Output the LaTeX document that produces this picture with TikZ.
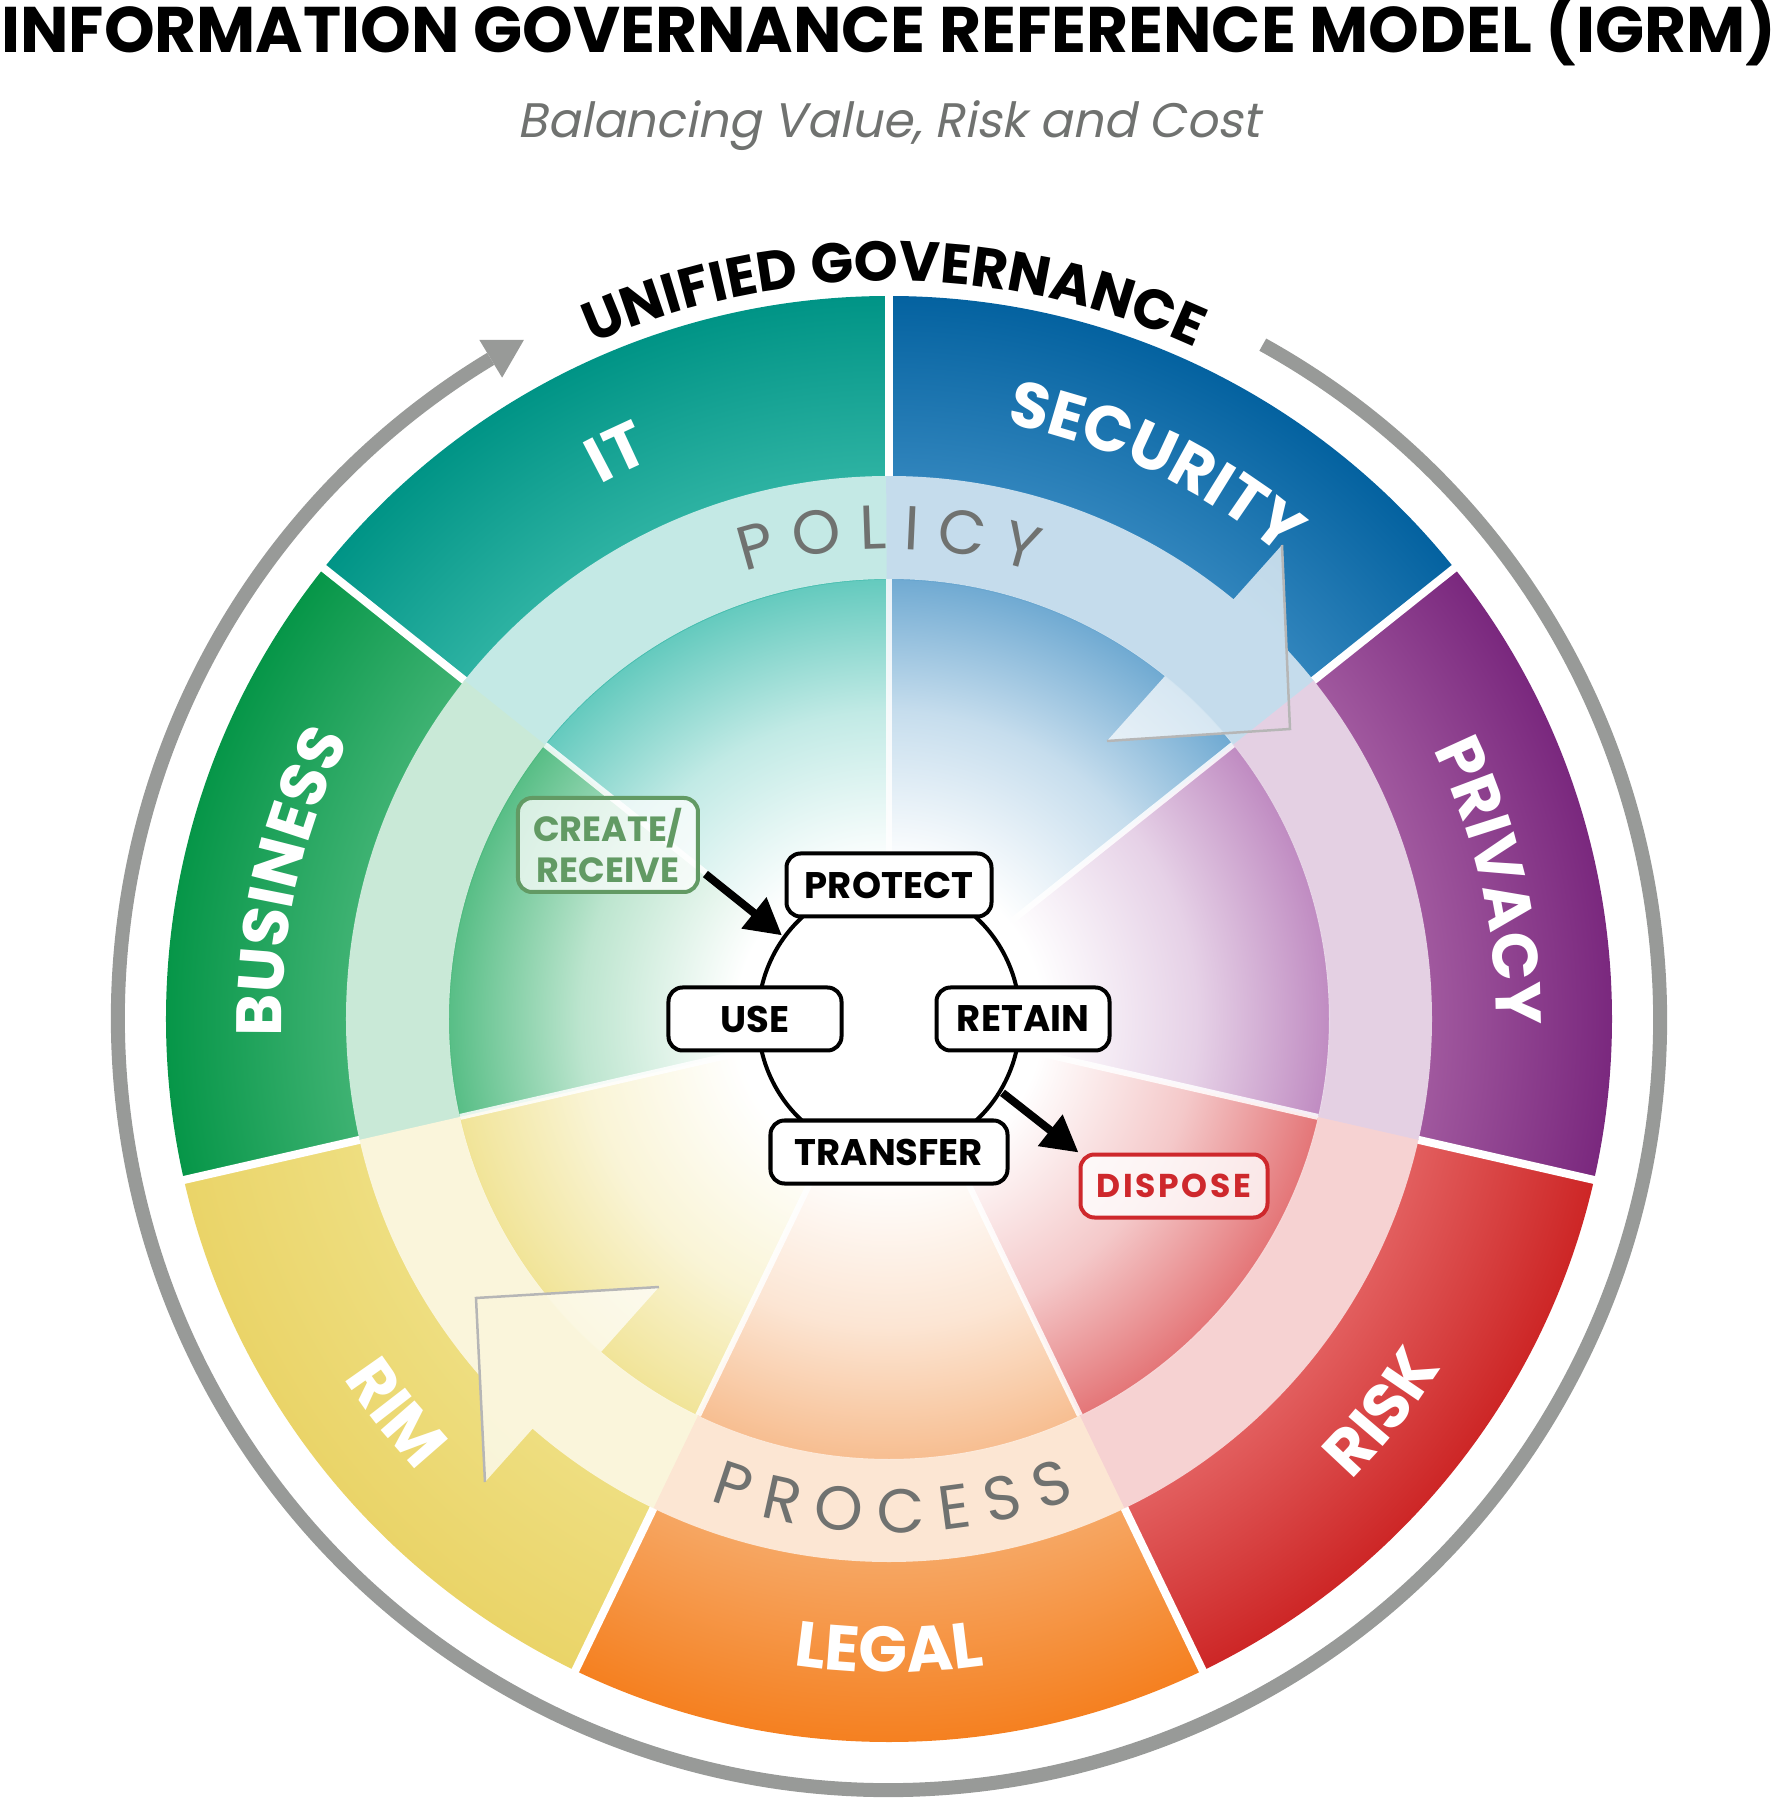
\documentclass[tikz,border=0pt]{standalone}
\usepackage{fontspec}
\usepackage{graphicx}
\setmainfont{Poppins}[AutoFakeSlant=0.2]
\newfontfamily\pop{Poppins}[AutoFakeSlant=0.2]
\usetikzlibrary{decorations.text,arrows.meta,shapes.geometric}

\definecolor{itD}{RGB}{0,148,134}
\definecolor{itL}{RGB}{45,178,162}
\definecolor{itM}{RGB}{100,202,190}
\definecolor{secD}{RGB}{4,98,160}
\definecolor{secL}{RGB}{48,132,188}
\definecolor{secM}{RGB}{112,170,210}
\definecolor{prvD}{RGB}{122,40,126}
\definecolor{prvL}{RGB}{160,88,158}
\definecolor{prvM}{RGB}{192,140,194}
\definecolor{rskD}{RGB}{205,38,38}
\definecolor{rskL}{RGB}{226,94,94}
\definecolor{rskM}{RGB}{228,118,120}
\definecolor{legD}{RGB}{245,128,32}
\definecolor{legL}{RGB}{246,166,98}
\definecolor{legM}{RGB}{247,190,145}
\definecolor{rimD}{RGB}{234,212,104}
\definecolor{rimL}{RGB}{238,222,128}
\definecolor{rimM}{RGB}{241,228,152}
\definecolor{busD}{RGB}{6,150,72}
\definecolor{busL}{RGB}{62,178,114}
\definecolor{busM}{RGB}{88,190,134}
\definecolor{arcgrey}{RGB}{152,154,152}
\definecolor{wordgrey}{RGB}{112,114,112}
\definecolor{subgrey}{RGB}{112,114,112}
\definecolor{edgegrey}{RGB}{182,182,182}
\definecolor{crgreen}{RGB}{98,154,100}
\definecolor{dsred}{RGB}{206,40,44}

% radial shading: 25bp corresponds to the outer radius (723)
\newcommand{\mkshade}[4]{%
  \pgfdeclareradialshading{sh#1}{\pgfpoint{0bp}{0bp}}{%
    color(0bp)=(white); color(5.3bp)=(white); color(10.65bp)=(#4!40!white);
    color(15.21bp)=(#4); color(15.23bp)=(#3); color(18.77bp)=(#3); color(25bp)=(#2); color(50bp)=(#2)}}
\mkshade{IT}{itD}{itL}{itM}
\mkshade{SEC}{secD}{secL}{secM}
\mkshade{PRV}{prvD}{prvL}{prvM}
\mkshade{RSK}{rskD}{rskL}{rskM}
\mkshade{LEG}{legD}{legL}{legM}
\mkshade{RIM}{rimD}{rimL}{rimM}
\mkshade{BUS}{busD}{busL}{busM}

\newcommand{\segment}[3]{%
  \begin{scope}
    \clip (0,0) -- (#2:730) arc[start angle=#2, end angle=#3, radius=730] -- cycle;
    \shade[shading=sh#1] (0,0) circle[radius=723];
  \end{scope}}

% fonts for text along paths
\newcommand{\fB}{\pop\bfseries\fontsize{64}{64}\selectfont}
\newcommand{\fU}{\pop\bfseries\fontsize{56}{56}\selectfont}
\newcommand{\fR}{\pop\fontsize{62}{62}\selectfont}

% text on a clockwise arc (tops outward) / counter-clockwise arc (tops inward)
\newcommand{\arcT}[5]{\path[decorate,decoration={text along path,text align=center,text color=#4,text={|#3|#5}}]
  ({#2+60}:#1) arc[start angle={#2+60},end angle={#2-60},radius=#1];}
\newcommand{\arcB}[5]{\path[decorate,decoration={text along path,text align=center,text color=#4,text={|#3|#5}}]
  ({#2-60}:#1) arc[start angle={#2-60},end angle={#2+60},radius=#1];}

\tikzset{
  cbox/.style={draw, line width=4, rounded corners=14, fill=white, inner sep=0,
    minimum height=63, font=\pop\bfseries\fontsize{37}{37}\selectfont},
  flowarrow/.style={line width=8, -{Triangle[length=36pt,width=38pt]}},
  arrowedge/.style={draw=edgegrey, line width=2.5, line join=miter}
}

\begin{document}
\begin{tikzpicture}[x=1pt,y=1pt]
\useasboundingbox (-889,-787) rectangle (888,1019);

% coloured sectors
\segment{IT}{90}{141.73}
\segment{BUS}{141.43}{193.16}
\segment{RIM}{192.86}{244.59}
\segment{LEG}{244.29}{296.01}
\segment{RSK}{295.71}{347.44}
\segment{PRV}{347.14}{398.87}
\segment{SEC}{38.57}{90.3}

% white separators
\foreach \b in {90,141.43,192.86,244.29,295.71,347.14,38.57}{
  \draw[white, line width=8] (\b:543) -- (\b:727);
  \draw[white, line width=6, opacity=0.85] (0,0) -- (\b:440);
}

% pale ring with the two arrow heads
\fill[white, fill opacity=0.72]
  (543,0) arc[start angle=0,end angle=360,radius=543] -- (440,0)
          arc[start angle=360,end angle=0,radius=440] -- cycle
  (393,474) -- (218,278) -- (401,290) -- cycle
  (-230,-268) -- (-413,-279) -- (-404,-463) -- cycle;
\draw[arrowedge] (393,474) -- (401,290) -- (218,278);
\draw[arrowedge] (-230,-268) -- (-413,-279) -- (-404,-463);

% POLICY / PROCESS
\arcT{470}{90}{\fR}{wordgrey}{P O L I C Y}
\arcB{514}{270.4}{\fR}{wordgrey}{P R O C E S S}

% sector labels
\arcT{607}{115.71}{\fB}{white}{IT}
\arcT{607}{64.29}{\fB}{white}{SECURITY}
\arcT{607}{12.86}{\fB}{white}{PRIVACY}
\arcT{607}{167.14}{\fB}{white}{BUSINESS}
\arcB{653}{218.57}{\fB}{white}{RIM}
\arcB{653}{270}{\fB}{white}{LEGAL}
\arcB{653}{321.43}{\fB}{white}{RISK}

% unified governance
\arcT{738}{89.6}{\fU}{black}{UNIFIED GOVERNANCE}

% grey outer arrow
\draw[line width=14, arcgrey] (61:771) arc[start angle=61, end angle=-238.9, radius=771];
\fill[arcgrey] (121.1:793) -- (118.27:771) -- (121.1:749) -- cycle;

% life-cycle centre
\node[ellipse, draw, line width=4, fill=white, minimum width=262, minimum height=272, inner sep=0] (ell) at (0,0) {};
\node[cbox, minimum width=205] (protect) at (0,134) {PROTECT};
\node[cbox, minimum width=173] (use) at (-134,0) {USE};
\node[cbox, minimum width=173] (retain) at (134,0) {RETAIN};
\node[cbox, minimum width=237] (transfer) at (0,-133) {TRANSFER};

\node[draw=crgreen, line width=4, rounded corners=14, fill=white, fill opacity=0.75, text opacity=1,
  text=crgreen, minimum width=180, minimum height=94, inner sep=0, align=center,
  font=\pop\bfseries\fontsize{35}{41}\selectfont] (create) at (-281,174) {CREATE/\\RECEIVE};
\node[draw=dsred, line width=4, rounded corners=14, fill=white, fill opacity=0.8, text opacity=1,
  text=dsred, minimum width=187, minimum height=63, inner sep=0,
  font=\pop\bfseries\fontsize{33}{33}\selectfont\addfontfeature{LetterSpace=8}] (dispose) at (285,-167) {DISPOSE};

\draw[flowarrow, shorten <=7, shorten >=1] (create.-15) -- (ell.142);
\draw[flowarrow, shorten <=1] (ell.-33) -- (dispose.north west);

% titles
\node[anchor=base, inner sep=0] (title) at (0,966)
  {\resizebox{1775pt}{!}{\pop\bfseries INFORMATION GOVERNANCE REFERENCE MODEL (IGRM)}};
\node[anchor=base, inner sep=0, text=subgrey] (subtitle) at (0,881)
  {\resizebox{742pt}{!}{\pop\itshape Balancing Value, Risk and Cost}};
\end{tikzpicture}
\end{document}
